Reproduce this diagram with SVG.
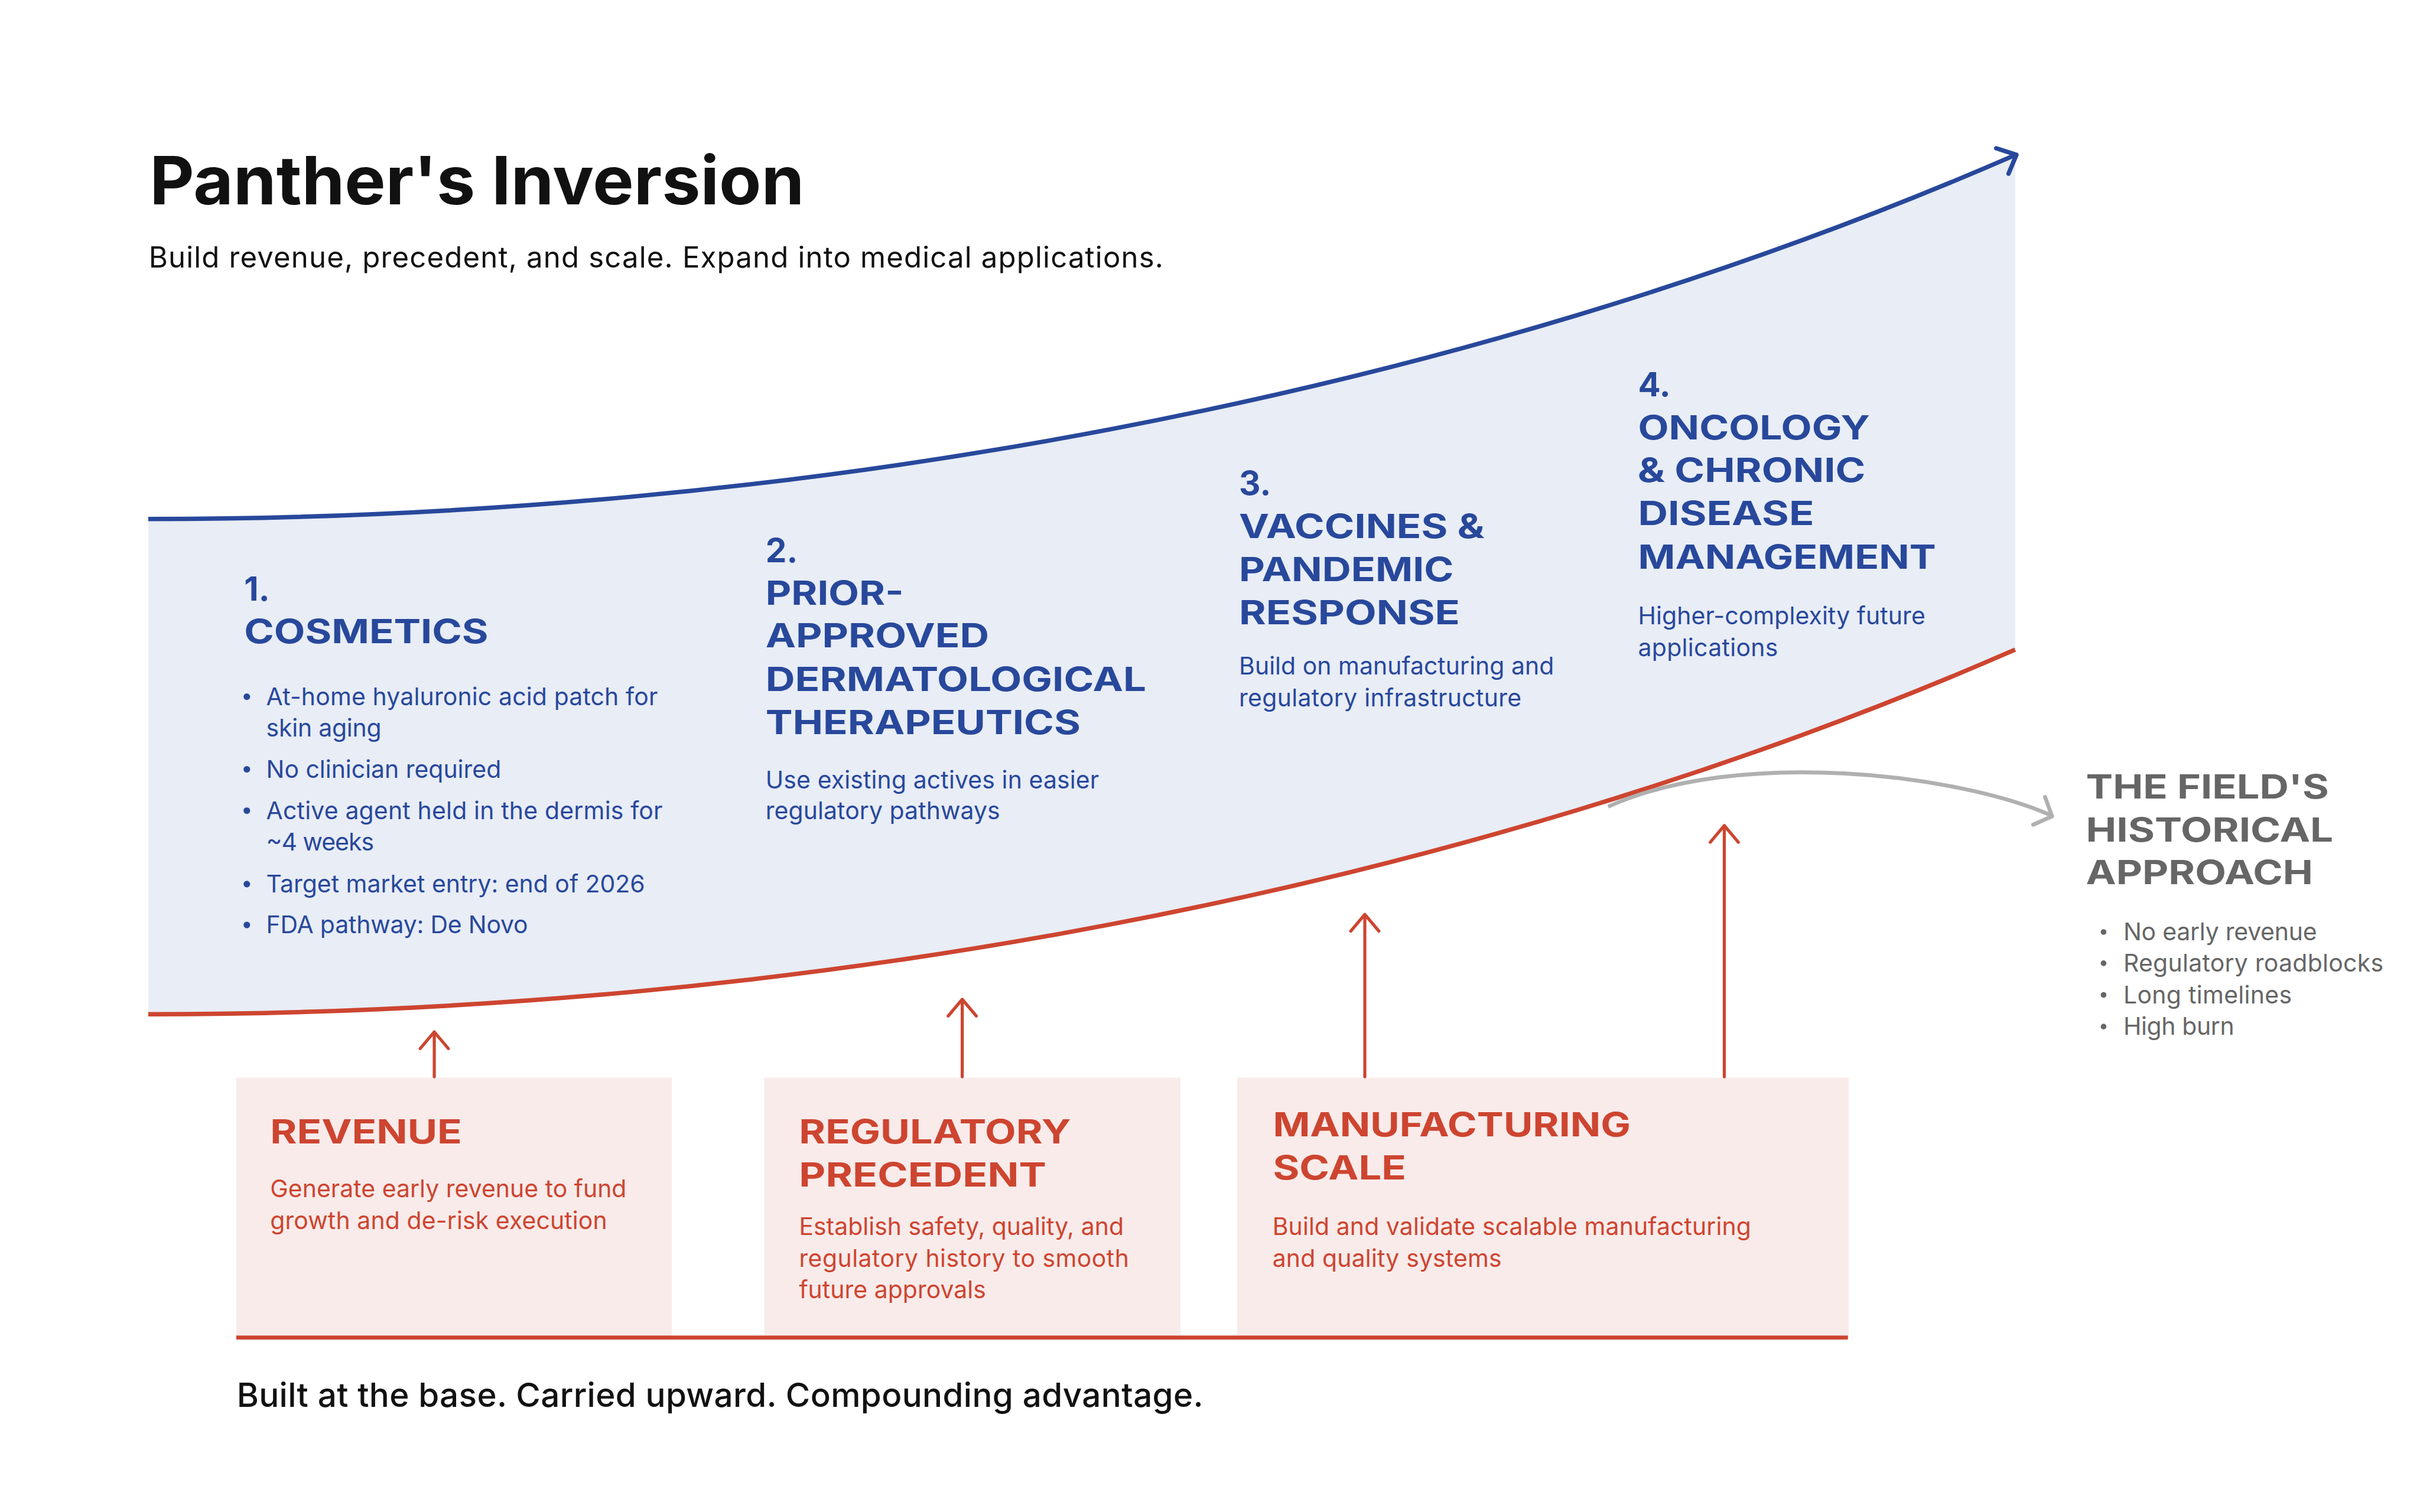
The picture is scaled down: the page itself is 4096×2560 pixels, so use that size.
<svg xmlns="http://www.w3.org/2000/svg" width="4096" height="2560" viewBox="0 0 4096 2560">
<style>
text { font-family: Inter, "Liberation Sans", sans-serif; }
.title { font-size:152px; font-weight:700; fill:#111111; }
.sub { font-size:66px; fill:#111111; }
.foot { font-size:76px; font-weight:500; fill:#111111; }
.hb { font-size:76px; font-weight:700; fill:#28489B; }
.bb { font-size:55px; fill:#28489B; }
.hg { font-size:76px; font-weight:700; fill:#666666; }
.bg { font-size:55px; fill:#666666; }
.hr { font-size:76px; font-weight:700; fill:#CD4530; }
.br { font-size:55px; fill:#CD4530; }
.box { fill:#F9EBEA; }
.dotb { fill:#28489B; }
.dotg { fill:#666666; }
.up { stroke:#CD4530; stroke-width:7; fill:none; stroke-linecap:round; stroke-linejoin:round; }
</style>
<rect x="0" y="0" width="4096" height="2560" fill="#FFFFFF"/>
<g transform="scale(0.7447)">
  <g id="area">
    <path d="M337 1180 C1800 1180 3300 910 4580 352 L4580 1477 C3300 2036 1800 2306 337 2306 Z" fill="#E8EDF6"/>
  </g>

  <g id="title">
    <text class="title" x="340" y="465" textLength="1488" lengthAdjust="spacingAndGlyphs">Panther's Inversion</text>
  </g>
  <g id="subtitle">
    <text class="sub" x="338" y="608" textLength="2306">Build revenue, precedent, and scale. Expand into medical applications.</text>
  </g>

  <g id="stage-1">
    <text class="hb" x="555" y="1365">1.</text>
    <text class="hb" x="555" y="1462" textLength="555" lengthAdjust="spacingAndGlyphs">COSMETICS</text>
    <circle class="dotb" cx="561" cy="1584" r="7.5"/>
    <circle class="dotb" cx="561" cy="1749" r="7.5"/>
    <circle class="dotb" cx="561" cy="1843" r="7.5"/>
    <circle class="dotb" cx="561" cy="2010" r="7.5"/>
    <circle class="dotb" cx="561" cy="2103" r="7.5"/>
    <text class="bb" x="605" y="1603" textLength="890">At-home hyaluronic acid patch for</text>
    <text class="bb" x="605" y="1674" textLength="262">skin aging</text>
    <text class="bb" x="605" y="1768" textLength="534">No clinician required</text>
    <text class="bb" x="605" y="1862" textLength="901">Active agent held in the dermis for</text>
    <text class="bb" x="605" y="1934" textLength="245">~4 weeks</text>
    <text class="bb" x="605" y="2029" textLength="861">Target market entry: end of 2026</text>
    <text class="bb" x="605" y="2122" textLength="595">FDA pathway: De Novo</text>
  </g>

  <g id="stage-2">
    <text class="hb" x="1740" y="1278">2.</text>
    <text class="hb" x="1740" y="1375" textLength="314" lengthAdjust="spacingAndGlyphs">PRIOR-</text>
    <text class="hb" x="1740" y="1472" textLength="508" lengthAdjust="spacingAndGlyphs">APPROVED</text>
    <text class="hb" x="1740" y="1571" textLength="865" lengthAdjust="spacingAndGlyphs">DERMATOLOGICAL</text>
    <text class="hb" x="1740" y="1669" textLength="716" lengthAdjust="spacingAndGlyphs">THERAPEUTICS</text>
    <text class="bb" x="1740" y="1792" textLength="758">Use existing actives in easier</text>
    <text class="bb" x="1740" y="1863" textLength="533">regulatory pathways</text>
  </g>

  <g id="stage-3">
    <text class="hb" x="2816" y="1125">3.</text>
    <text class="hb" x="2816" y="1223" textLength="558" lengthAdjust="spacingAndGlyphs">VACCINES &amp;</text>
    <text class="hb" x="2816" y="1321" textLength="488" lengthAdjust="spacingAndGlyphs">PANDEMIC</text>
    <text class="hb" x="2816" y="1420" textLength="502" lengthAdjust="spacingAndGlyphs">RESPONSE</text>
    <text class="bb" x="2816" y="1534" textLength="716">Build on manufacturing and</text>
    <text class="bb" x="2816" y="1606" textLength="642">regulatory infrastructure</text>
  </g>

  <g id="stage-4">
    <text class="hb" x="3723" y="901">4.</text>
    <text class="hb" x="3723" y="999" textLength="527" lengthAdjust="spacingAndGlyphs">ONCOLOGY</text>
    <text class="hb" x="3722" y="1096" textLength="518" lengthAdjust="spacingAndGlyphs">&amp; CHRONIC</text>
    <text class="hb" x="3723" y="1194" textLength="400" lengthAdjust="spacingAndGlyphs">DISEASE</text>
    <text class="hb" x="3723" y="1293" textLength="677" lengthAdjust="spacingAndGlyphs">MANAGEMENT</text>
    <text class="bb" x="3723" y="1420" textLength="653">Higher-complexity future</text>
    <text class="bb" x="3723" y="1492" textLength="318">applications</text>
  </g>

  <g id="historical">
    <text class="hg" x="4741" y="1815" textLength="552" lengthAdjust="spacingAndGlyphs">THE FIELD'S</text>
    <text class="hg" x="4741" y="1913" textLength="562" lengthAdjust="spacingAndGlyphs">HISTORICAL</text>
    <text class="hg" x="4741" y="2010" textLength="516" lengthAdjust="spacingAndGlyphs">APPROACH</text>
    <circle class="dotg" cx="4781" cy="2119" r="6.5"/>
    <circle class="dotg" cx="4781" cy="2190" r="6.5"/>
    <circle class="dotg" cx="4781" cy="2262" r="6.5"/>
    <circle class="dotg" cx="4781" cy="2334" r="6.5"/>
    <text class="bg" x="4826" y="2138" textLength="440">No early revenue</text>
    <text class="bg" x="4826" y="2209" textLength="591">Regulatory roadblocks</text>
    <text class="bg" x="4826" y="2281" textLength="383">Long timelines</text>
    <text class="bg" x="4826" y="2353" textLength="252">High burn</text>
  </g>

  <g id="revenue">
    <rect class="box" x="537" y="2450" width="990" height="590"/>
    <text class="hr" x="614" y="2600" textLength="436" lengthAdjust="spacingAndGlyphs">REVENUE</text>
    <text class="br" x="614" y="2722" textLength="810">Generate early revenue to fund</text>
    <text class="br" x="614" y="2794" textLength="766">growth and de-risk execution</text>
  </g>

  <g id="regulatory-precedent">
    <rect class="box" x="1737" y="2450" width="946" height="590"/>
    <text class="hr" x="1816" y="2600" textLength="618" lengthAdjust="spacingAndGlyphs">REGULATORY</text>
    <text class="hr" x="1816" y="2698" textLength="562" lengthAdjust="spacingAndGlyphs">PRECEDENT</text>
    <text class="br" x="1816" y="2808" textLength="738">Establish safety, quality, and</text>
    <text class="br" x="1816" y="2880" textLength="750">regulatory history to smooth</text>
    <text class="br" x="1816" y="2952" textLength="425">future approvals</text>
  </g>

  <g id="manufacturing-scale">
    <rect class="box" x="2812" y="2450" width="1390" height="590"/>
    <text class="hr" x="2893" y="2584" textLength="813" lengthAdjust="spacingAndGlyphs">MANUFACTURING</text>
    <text class="hr" x="2893" y="2682" textLength="303" lengthAdjust="spacingAndGlyphs">SCALE</text>
    <text class="br" x="2892" y="2808" textLength="1088">Build and validate scalable manufacturing</text>
    <text class="br" x="2892" y="2880" textLength="521">and quality systems</text>
  </g>

  <g id="footer">
    <text class="foot" x="538" y="3199" textLength="2197">Built at the base. Carried upward. Compounding advantage.</text>
  </g>

  <g id="connectors">
    <path d="M337 1180 C1800 1180 3300 910 4579 353" fill="none" stroke="#28489B" stroke-width="10"/>
    <polyline points="4537,337 4583,352 4565,395" fill="none" stroke="#28489B" stroke-width="10" stroke-linecap="round" stroke-linejoin="round"/>
    <path d="M337 2306 C1800 2306 3300 2036 4580 1477" fill="none" stroke="#CD4530" stroke-width="10"/>
    <path d="M3655 1834 C3950 1700 4450 1760 4660 1853" fill="none" stroke="#B0B0B0" stroke-width="9"/>
    <polyline points="4648,1812 4664,1856 4621,1875" fill="none" stroke="#B0B0B0" stroke-width="9" stroke-linecap="round" stroke-linejoin="round"/>
    <path class="up" d="M987 2448 V2347 M955 2384 L987 2346 L1019 2384"/>
    <path class="up" d="M2187 2448 V2273 M2155 2310 L2187 2272 L2219 2310"/>
    <path class="up" d="M3102 2448 V2080 M3070 2117 L3102 2079 L3134 2117"/>
    <path class="up" d="M3919 2448 V1878 M3887 1915 L3919 1877 L3951 1915"/>
    <line x1="537" y1="3041" x2="4200" y2="3041" stroke="#CD4530" stroke-width="9"/>
  </g>
</g>
</svg>
